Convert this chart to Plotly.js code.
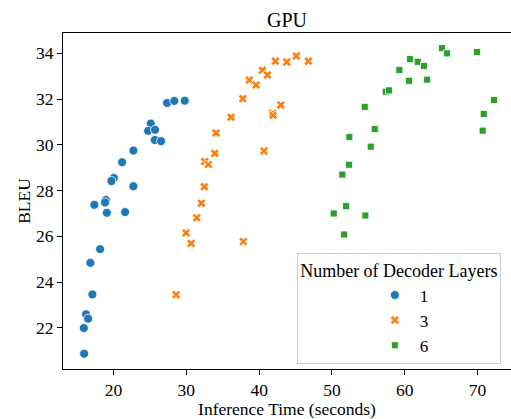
<!DOCTYPE html>
<html>
<head>
<meta charset="utf-8">
<script src="https://cdn.plot.ly/plotly-3.0.1.min.js"></script>
<style>html,body{margin:0;padding:0;background:#fff;}#chart{width:511px;height:419px;}</style>
</head>
<body>
<div id="chart"></div>
<script>
// Decoder layers = 1
const time1 = [27.35,28.35,29.78,25.11,24.74,25.70,25.66,26.52,22.72,21.17,20.03,19.70,22.72,17.36,18.93,18.83,19.07,21.58,18.15,16.81,17.09,16.22,16.50,15.91,15.95];
const bleu1 = [31.83,31.92,31.93,30.93,30.61,30.66,30.21,30.16,29.75,29.24,28.55,28.42,28.19,27.38,27.59,27.48,27.03,27.06,25.44,24.84,23.46,22.59,22.40,21.99,20.87];
// Decoder layers = 3
const time3 = [42.23,43.79,45.11,46.76,40.44,41.13,38.65,39.57,37.75,42.97,36.14,41.87,41.91,34.08,33.90,40.67,32.53,33.02,32.47,32.06,31.43,29.96,30.65,37.83,28.59];
const bleu3 = [33.66,33.62,33.88,33.66,33.26,33.05,32.83,32.62,32.02,31.74,31.21,31.38,31.29,30.52,29.63,29.73,29.27,29.14,28.17,27.45,26.81,26.15,25.69,25.77,23.45];
// Decoder layers = 6
const time6 = [65.12,65.81,69.93,60.73,61.79,62.65,59.26,60.59,63.07,57.39,57.84,54.51,72.27,70.85,55.88,52.39,70.71,55.33,52.35,51.43,51.94,50.25,54.59,51.67];
const bleu6 = [34.23,34.00,34.06,33.75,33.63,33.45,33.27,32.80,32.85,32.32,32.38,31.66,31.96,31.35,30.69,30.34,30.62,29.92,29.13,28.70,27.32,27.00,26.91,26.08];

const layerNames = ['1','3','6'];
const xTicks = [20,30,40,50,60,70];
const yTicks = [22,24,26,28,30,32,34];

const FONT = 'Liberation Serif, Times New Roman, serif';

const traces = [
  {x: time1, y: bleu1, name: layerNames[0], type: 'scatter', mode: 'markers',
   marker: {symbol: 'circle', size: 9, color: '#1f77b4', line: {color: '#ffffff', width: 0.8}}},
  {x: time3, y: bleu3, name: layerNames[1], type: 'scatter', mode: 'markers',
   marker: {symbol: 'x', size: 8, color: '#ff7f0e', line: {color: '#ffffff', width: 0.8}}},
  {x: time6, y: bleu6, name: layerNames[2], type: 'scatter', mode: 'markers',
   marker: {symbol: 'square', size: 7, color: '#2ca02c', line: {color: '#ffffff', width: 0.8}}}
];

const layout = {
  width: 511, height: 419,
  margin: {l: 63, r: 0, t: 33, b: 50},
  paper_bgcolor: '#ffffff', plot_bgcolor: '#ffffff',
  font: {family: FONT, size: 17.5, color: '#000000'},
  title: {text: 'GPU', font: {family: FONT, size: 20, color: '#000'}, x: 0.5, xref: 'paper', y: 1, yref: 'paper', yanchor: 'bottom', pad: {b: 6}},
  xaxis: {
    range: [13.05, 74.6], tickvals: xTicks, ticktext: xTicks.map(String),
    showgrid: false, zeroline: false, showline: true, linecolor: '#000', linewidth: 1, mirror: true,
    ticks: 'outside', ticklen: 5, tickcolor: '#000', tickwidth: 1,
    tickfont: {family: FONT, size: 17.5},
    title: {text: 'Inference Time (seconds)', font: {family: FONT, size: 17.5}, standoff: 0}
  },
  yaxis: {
    range: [20.2, 34.89], tickvals: yTicks, ticktext: yTicks.map(String),
    showgrid: false, zeroline: false, showline: true, linecolor: '#000', linewidth: 1, mirror: true,
    ticks: 'outside', ticklen: 5, tickcolor: '#000', tickwidth: 1,
    tickfont: {family: FONT, size: 17.5},
    title: {text: 'BLEU', font: {family: FONT, size: 17.5}, standoff: 0}
  },
  showlegend: true,
  legend: {
    x: 0.522, y: 0.345, xanchor: 'left', yanchor: 'top',
    bgcolor: 'rgba(255,255,255,0.8)', bordercolor: '#cccccc', borderwidth: 1,
    font: {family: FONT, size: 17},
    title: {text: 'Number of Decoder Layers', side: 'top center', font: {family: FONT, size: 18}},
    indentation: 72, itemwidth: 40, tracegroupgap: 0
  }
};

Plotly.newPlot('chart', traces, layout, {displayModeBar: false, staticPlot: true});
</script>
</body>
</html>
